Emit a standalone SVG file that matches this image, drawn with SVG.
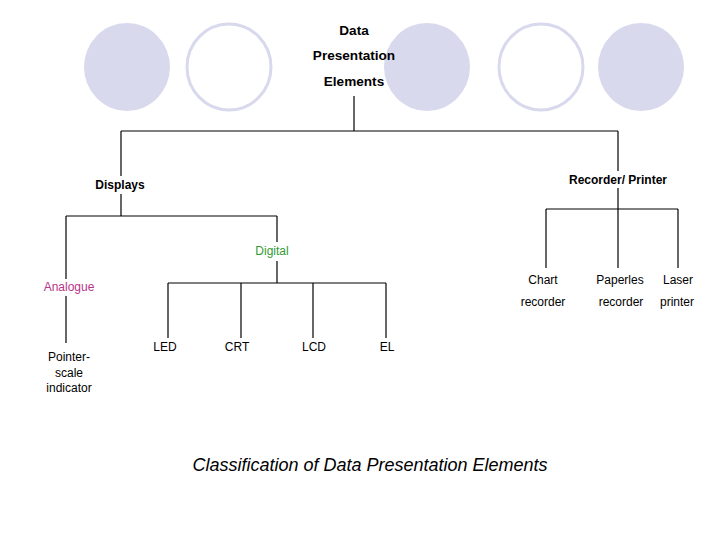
<svg xmlns="http://www.w3.org/2000/svg" width="720" height="540" viewBox="0 0 720 540">
<style>
  .bg{fill:#ffffff}
  .dot{fill:#d9d9ee}
  .ring{fill:#ffffff;stroke:#d9d9ee;stroke-width:3}
  .conn line{stroke:#000000;stroke-width:1.2;fill:none}
  text{font-family:"Liberation Sans",Arial,sans-serif;font-size:12px;fill:#000000;text-anchor:middle}
  .b{font-weight:bold}
  .big{font-size:13.6px}
  .green{fill:#339933}
  .mag{fill:#b8338a}
  .title{font-size:18px;font-style:italic}
</style>
<rect class="bg" x="0" y="0" width="720" height="540"/>
<g id="decor">
  <ellipse class="dot" cx="127" cy="67" rx="43" ry="44"/>
  <ellipse class="ring" cx="229" cy="67" rx="42" ry="43"/>
  <ellipse class="dot" cx="427" cy="67" rx="43" ry="44"/>
  <ellipse class="ring" cx="541" cy="67" rx="42" ry="43"/>
  <ellipse class="dot" cx="641" cy="67" rx="43" ry="44"/>
</g>
<g id="connectors" class="conn">
  <line x1="354" y1="96" x2="354" y2="131"/>
  <line x1="121" y1="131" x2="618" y2="131"/>
  <line x1="121" y1="131" x2="121" y2="176"/>
  <line x1="121" y1="194" x2="121" y2="216"/>
  <line x1="618" y1="131" x2="618" y2="171"/>
  <line x1="618" y1="188" x2="618" y2="268"/>
  <line x1="66" y1="216" x2="277" y2="216"/>
  <line x1="66" y1="216" x2="66" y2="279"/>
  <line x1="66" y1="296" x2="66" y2="343"/>
  <line x1="277" y1="216" x2="277" y2="242"/>
  <line x1="277" y1="261" x2="277" y2="283"/>
  <line x1="168" y1="283" x2="386" y2="283"/>
  <line x1="168" y1="283" x2="168" y2="338"/>
  <line x1="241" y1="283" x2="241" y2="338"/>
  <line x1="313" y1="283" x2="313" y2="338"/>
  <line x1="386" y1="283" x2="386" y2="338"/>
  <line x1="546" y1="209" x2="678" y2="209"/>
  <line x1="546" y1="209" x2="546" y2="268"/>
  <line x1="678" y1="209" x2="678" y2="268"/>
</g>
<g id="root">
  <text class="b big" x="354" y="35">Data</text>
  <text class="b big" x="354" y="60">Presentation</text>
  <text class="b big" x="354" y="86">Elements</text>
</g>
<g id="displays"><text class="b" x="120" y="189">Displays</text></g>
<g id="recorder"><text class="b" x="618" y="184">Recorder/ Printer</text></g>
<g id="digital"><text class="green" x="272" y="255">Digital</text></g>
<g id="analogue"><text class="mag" x="69" y="291">Analogue</text></g>
<g id="pointer">
  <text x="69" y="361">Pointer-</text>
  <text x="69" y="377">scale</text>
  <text x="69" y="392">indicator</text>
</g>
<g id="led"><text x="165" y="351">LED</text></g>
<g id="crt"><text x="237" y="351">CRT</text></g>
<g id="lcd"><text x="314" y="351">LCD</text></g>
<g id="el"><text x="387" y="351">EL</text></g>
<g id="chart">
  <text x="543" y="284">Chart</text>
  <text x="543" y="306">recorder</text>
</g>
<g id="paperless">
  <text x="620" y="284">Paperles</text>
  <text x="621" y="306">recorder</text>
</g>
<g id="laser">
  <text x="678" y="284">Laser</text>
  <text x="677" y="306">printer</text>
</g>
<g id="caption"><text class="title" x="370" y="471">Classification of Data Presentation Elements</text></g>
</svg>
